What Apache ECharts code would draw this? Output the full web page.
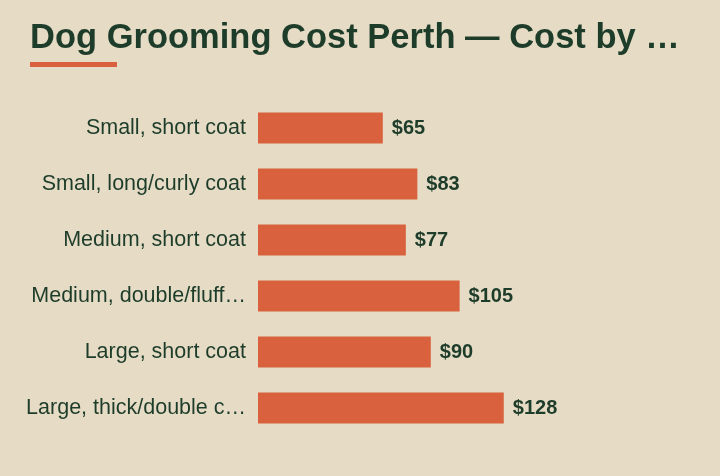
<!DOCTYPE html>
<html>
<head>
<meta charset="utf-8">
<script src="https://cdn.jsdelivr.net/npm/echarts@6/dist/echarts.min.js"></script>
<style>
  html, body { margin: 0; padding: 0; background: #e6dcc5; }
  #chart { width: 720px; height: 476px; }
</style>
</head>
<body>
<div id="chart"></div>
<script>
// costs by dog size and coat type (AUD)
const titleText = 'Dog Grooming Cost Perth — Cost by Size and Coat Type';
const categories = [
    'Small, short coat',
    'Small, long/curly coat',
    'Medium, short coat',
    'Medium, double/fluffy coat',
    'Large, short coat',
    'Large, thick/double coat'
];
const costs = [65, 83, 77, 105, 90, 128];

const green = '#1e3c2a';
const orange = '#d9613d';

// cut text to fit a width, ending with an ellipsis
const ctx = document.createElement('canvas').getContext('2d');
function fitText(str, font, maxWidth) {
    ctx.font = font;
    if (ctx.measureText(str).width <= maxWidth) return str;
    let s = str;
    while (s.length > 1 && ctx.measureText(s + '…').width > maxWidth) {
        s = s.slice(0, -1);
    }
    return s + '…';
}

let chart = echarts.init(document.getElementById('chart'));
let option = {
    backgroundColor: '#e6dcc5',
    title: {
        text: fitText(titleText, 'bold 34.5px "Liberation Sans"', 660),
        left: 30,
        top: 21,
        padding: 0,
        textStyle: {
            fontFamily: 'Liberation Sans',
            fontSize: 34.5,
            fontWeight: 'bold',
            color: green
        }
    },
    graphic: [{
        type: 'rect',
        shape: {x: 30, y: 62, width: 87, height: 5},
        style: {fill: orange}
    }],
    grid: {left: 258, right: 78, top: 100, bottom: 40, containLabel: false},
    xAxis: {
        type: 'value',
        min: 0,
        max: 200,
        show: false
    },
    yAxis: {
        type: 'category',
        data: categories,
        inverse: true,
        axisLine: {show: false},
        axisTick: {show: false},
        splitLine: {show: false},
        axisLabel: {
            margin: 12,
            fontFamily: 'Liberation Sans',
            fontSize: 21.5,
            color: green,
            formatter: v => fitText(v, '21.5px "Liberation Sans"', 223)
        }
    },
    series: [{
        type: 'bar',
        data: costs,
        barWidth: 31,
        itemStyle: {color: orange},
        label: {
            show: true,
            position: 'right',
            distance: 9,
            formatter: p => '$' + p.value,
            fontFamily: 'Liberation Sans',
            fontSize: 20,
            fontWeight: 'bold',
            color: green
        }
    }]
};
chart.setOption(option);
</script>
</body>
</html>
